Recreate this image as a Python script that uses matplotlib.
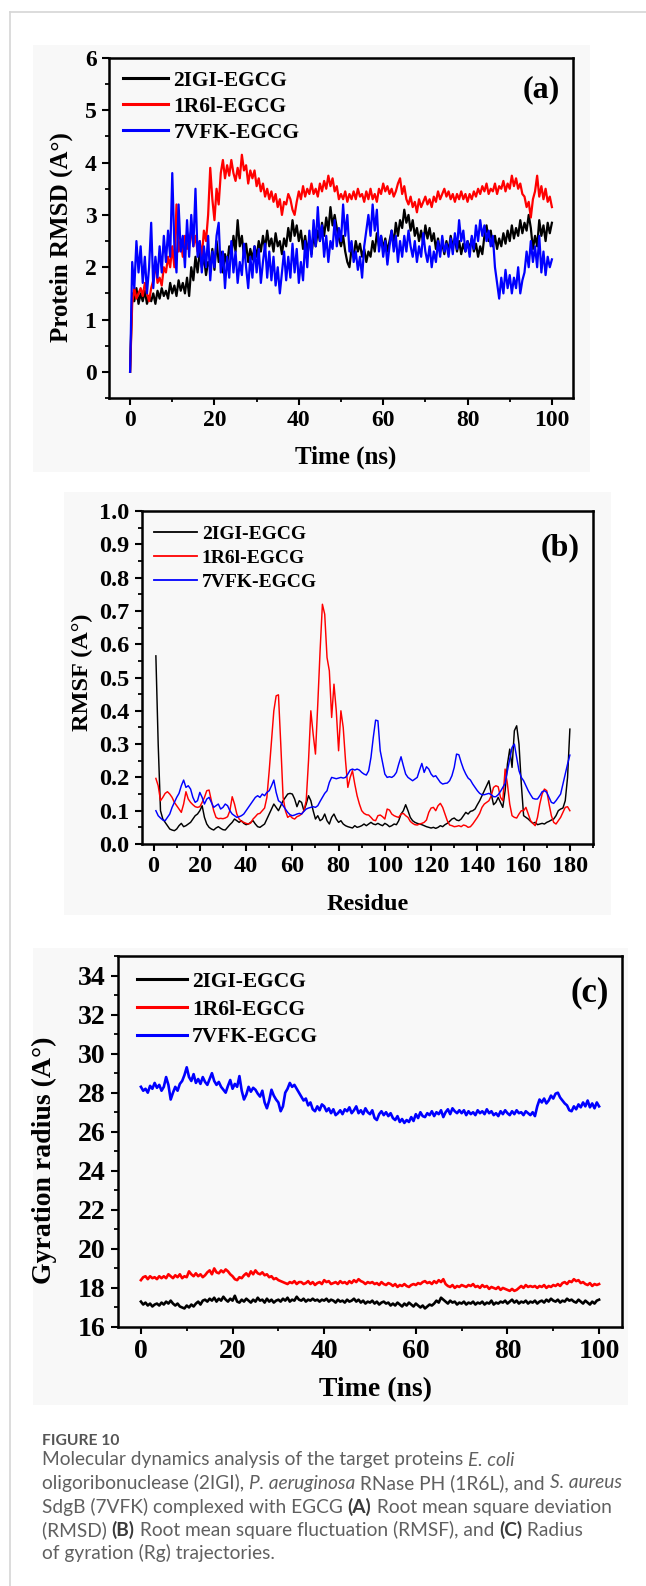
import numpy as np
import matplotlib
matplotlib.use("Agg")
import matplotlib.pyplot as plt
from matplotlib.patches import Rectangle
from matplotlib.lines import Line2D
from matplotlib.ticker import MultipleLocator, FormatStrFormatter

W, H = 646, 1586

# ---------------- data ----------------
labels = ["2IGI-EGCG", "1R6l-EGCG", "7VFK-EGCG"]
colors = ["#000000", "#ff0000", "#0000ff"]

# (a) protein RMSD, 0..100 ns every 0.5 ns
time_a = np.arange(0, 100.5, 0.5)
rmsd_2igi = [
    0.0, 1.5, 1.35, 1.6, 1.3, 1.5, 1.35, 1.55, 1.3, 1.45,
    1.35, 1.5, 1.3, 1.55, 1.4, 1.6, 1.45, 1.55, 1.4, 1.7,
    1.5, 1.65, 1.45, 1.75, 1.55, 1.7, 1.5, 1.8, 1.45, 2.0,
    1.75, 2.2, 1.9, 2.3, 2.0, 2.2, 1.85, 2.1, 2.0, 2.35,
    1.95, 2.5, 2.1, 2.3, 1.9, 2.25, 2.05, 2.4, 2.2, 2.6,
    2.3, 2.9, 2.4, 2.6, 2.2, 2.45, 2.1, 2.35, 2.15, 2.4,
    2.2, 2.5, 2.3, 2.6, 2.35, 2.7, 2.4, 2.55, 2.3, 2.65,
    2.4, 2.5, 2.25, 2.55, 2.4, 2.75, 2.5, 2.9, 2.6, 2.8,
    2.5, 2.7, 2.35, 2.6, 2.3, 2.55, 2.25, 2.6, 2.4, 2.7,
    2.5, 2.85, 2.6, 2.95, 2.7, 3.15, 2.8, 3.0, 2.75, 2.55,
    2.4, 2.6, 2.3, 2.1, 2.0, 2.35, 2.2, 2.5, 2.3, 2.45,
    2.2, 2.35, 2.1, 2.3, 2.2, 2.5, 2.3, 2.65, 2.4, 2.6,
    2.35, 2.55, 2.3, 2.5, 2.7, 2.45, 2.85, 2.6, 2.9, 2.75,
    3.1, 2.85, 3.0, 2.7, 2.9, 2.6, 2.75, 2.5, 2.7, 2.45,
    2.8, 2.55, 2.75, 2.5, 2.65, 2.35, 2.55, 2.3, 2.45, 2.25,
    2.5, 2.3, 2.6, 2.4, 2.55, 2.3, 2.5, 2.25, 2.45, 2.3,
    2.5, 2.35, 2.55, 2.3, 2.45, 2.2, 2.4, 2.25, 2.6, 2.8,
    2.5, 2.7, 2.4, 2.6, 2.35, 2.55, 2.4, 2.65, 2.45, 2.7,
    2.5, 2.8, 2.55, 2.75, 2.6, 2.9, 2.65, 2.85, 2.7, 3.0,
    2.75, 2.35, 2.6, 2.4, 2.9, 2.6, 2.8, 2.5, 2.85, 2.65,
    2.85,
]
rmsd_1r6l = [
    0.0, 1.3, 1.6, 1.4, 1.5, 1.6, 1.45, 1.7, 1.5, 1.35,
    1.6, 1.75, 2.1, 1.7, 1.8, 1.65, 2.0, 1.9, 2.2, 2.0,
    2.4, 2.0, 3.2, 2.3, 2.5, 2.2, 2.6, 2.35, 2.5, 2.7,
    2.4, 2.6, 2.3, 2.5, 2.2, 2.7, 2.5, 3.0, 3.9, 3.3,
    2.9, 3.5, 3.2, 3.8, 4.05, 3.7, 3.95, 3.75, 4.05, 3.8,
    3.65, 3.9, 3.7, 4.15, 3.85, 3.95, 3.6, 3.85, 3.7, 3.85,
    3.55, 3.7, 3.45, 3.6, 3.35, 3.5, 3.3, 3.45, 3.25, 3.4,
    3.15, 3.3, 3.0, 3.25, 3.2, 3.4, 3.3, 3.1, 3.0, 3.25,
    3.45, 3.3, 3.55, 3.35, 3.5, 3.4, 3.6, 3.4, 3.5, 3.35,
    3.6, 3.45, 3.65, 3.5, 3.75, 3.55, 3.7, 3.45, 3.55, 3.3,
    3.4, 3.3, 3.45, 3.25, 3.4, 3.3, 3.45, 3.3, 3.5, 3.35,
    3.4, 3.25, 3.45, 3.3, 3.5, 3.3, 3.4, 3.25, 3.5, 3.4,
    3.6, 3.45, 3.55, 3.4, 3.5, 3.35, 3.45, 3.6, 3.7, 3.4,
    3.55, 3.3, 3.2, 3.35, 3.15, 3.25, 3.05, 3.3, 3.15, 3.25,
    3.35, 3.2, 3.3, 3.15, 3.35, 3.25, 3.45, 3.3, 3.4, 3.5,
    3.35, 3.45, 3.3, 3.4, 3.25, 3.4, 3.3, 3.45, 3.3, 3.4,
    3.25, 3.4, 3.3, 3.45, 3.35, 3.5, 3.4, 3.55, 3.45, 3.6,
    3.4, 3.5, 3.45, 3.6, 3.4, 3.55, 3.5, 3.65, 3.45, 3.6,
    3.5, 3.75, 3.55, 3.7, 3.5, 3.6, 3.4, 3.35, 3.15, 3.25,
    2.95, 3.3, 3.45, 3.75, 3.35, 3.55, 3.3, 3.5, 3.25, 3.35,
    3.15,
]
rmsd_7vfk = [
    0.0, 2.1, 1.6, 2.5, 1.9, 2.4, 1.7, 2.2, 1.5, 2.0,
    2.85, 1.6, 2.2, 1.8, 2.4, 1.9, 2.6, 2.1, 2.7, 2.2,
    3.8, 2.4, 1.9, 3.2, 2.3, 2.6, 2.0, 2.9, 2.2, 3.0,
    2.4, 3.5, 2.2, 2.5, 1.9, 2.4, 2.0, 2.6, 1.75, 2.3,
    2.0, 2.6, 2.85, 1.9, 2.3, 1.6, 2.2, 1.8, 2.5, 1.9,
    2.3, 1.7, 2.1, 1.85, 2.45, 2.0, 1.6, 2.2, 1.8, 2.4,
    1.9, 2.35, 1.7, 2.1, 2.45, 1.8, 2.3, 1.75, 2.2, 1.65,
    2.0, 1.5, 1.9, 2.3, 1.75, 2.2, 1.8, 2.45, 1.9, 2.35,
    1.7, 2.1, 1.75, 2.5, 2.0, 2.7, 2.2, 2.9, 2.4, 3.15,
    2.5, 2.8, 2.2, 2.6, 2.1, 2.5, 2.35, 2.9, 2.4, 2.75,
    2.5, 3.2, 2.6, 3.0, 2.3, 2.5, 2.1, 2.3, 1.95, 2.2,
    1.8, 2.4, 2.7, 3.0, 2.6, 3.2, 2.7, 3.1, 2.3, 2.6,
    2.2, 2.5, 2.05, 2.4, 2.7, 2.3, 2.6, 2.1, 2.5, 2.2,
    2.6, 2.3, 2.7, 2.4, 2.2, 2.5, 2.1, 2.4, 2.2, 2.65,
    2.3, 2.1, 2.4, 2.0, 2.3, 2.1, 2.5, 2.2, 2.6, 2.3,
    2.45, 2.2, 2.55, 2.25, 2.65, 2.35, 2.9, 2.5, 2.7, 2.3,
    2.5, 2.2, 2.6, 2.35, 2.8, 2.5, 2.9, 2.6, 2.8, 2.5,
    2.7, 2.4, 2.6, 2.0, 1.7, 1.4, 1.8, 1.5, 1.95, 1.6,
    1.85, 1.5, 1.8, 1.6, 2.0, 1.5, 1.75, 1.9, 2.3, 2.0,
    2.5, 2.1, 2.4, 2.0, 2.6, 1.9, 2.3, 1.85, 2.2, 2.0,
    2.15,
]

# (b) RMSF per residue 1..180
residue = np.arange(1, 181)
rmsf_2igi = [
    0.565, 0.30, 0.10, 0.075, 0.065, 0.055, 0.045, 0.042, 0.040, 0.045,
    0.055, 0.062, 0.052, 0.055, 0.06, 0.065, 0.075, 0.085, 0.09, 0.10,
    0.115, 0.08, 0.06, 0.05, 0.045, 0.042, 0.048, 0.052, 0.047, 0.043,
    0.042, 0.05, 0.058, 0.065, 0.075, 0.07, 0.065, 0.07, 0.062, 0.058,
    0.06, 0.065, 0.07, 0.06, 0.052, 0.05, 0.055, 0.06, 0.075, 0.09,
    0.105, 0.12, 0.11, 0.10, 0.115, 0.13, 0.14, 0.15, 0.152, 0.15,
    0.135, 0.112, 0.13, 0.125, 0.10, 0.12, 0.145, 0.13, 0.10, 0.075,
    0.085, 0.07, 0.075, 0.09, 0.07, 0.06, 0.08, 0.09, 0.075, 0.065,
    0.07, 0.06, 0.055, 0.052, 0.05, 0.048, 0.055, 0.05, 0.052, 0.055,
    0.06, 0.055, 0.06, 0.065, 0.06, 0.058, 0.062, 0.058, 0.055, 0.062,
    0.058, 0.052, 0.055, 0.06, 0.058, 0.07, 0.09, 0.10, 0.118, 0.10,
    0.08, 0.07, 0.065, 0.062, 0.06, 0.058, 0.055, 0.052, 0.05, 0.048,
    0.05, 0.047, 0.05, 0.055, 0.052, 0.058, 0.062, 0.068, 0.075, 0.078,
    0.072, 0.07, 0.075, 0.085, 0.095, 0.09, 0.098, 0.10, 0.105, 0.118,
    0.13, 0.145, 0.16, 0.175, 0.19, 0.15, 0.118, 0.125, 0.14, 0.125,
    0.11, 0.16, 0.24, 0.285, 0.23, 0.34, 0.355, 0.30, 0.18, 0.085,
    0.08, 0.075, 0.068, 0.062, 0.065, 0.058, 0.06, 0.062, 0.06, 0.065,
    0.068, 0.072, 0.075, 0.085, 0.10, 0.105, 0.108, 0.13, 0.20, 0.345,
]
rmsf_1r6l = [
    0.197, 0.175, 0.13, 0.14, 0.152, 0.157, 0.15, 0.14, 0.125, 0.115,
    0.105, 0.095, 0.12, 0.157, 0.135, 0.125, 0.118, 0.112, 0.11, 0.112,
    0.125, 0.14, 0.16, 0.162, 0.13, 0.10, 0.08, 0.076, 0.077, 0.076,
    0.078, 0.082, 0.10, 0.142, 0.12, 0.09, 0.075, 0.068, 0.065, 0.062,
    0.06, 0.063, 0.075, 0.082, 0.09, 0.092, 0.10, 0.108, 0.14, 0.22,
    0.31, 0.40, 0.445, 0.448, 0.30, 0.14, 0.10, 0.08, 0.085, 0.078,
    0.075, 0.082, 0.085, 0.09, 0.10, 0.13, 0.25, 0.40, 0.33, 0.27,
    0.42, 0.58, 0.72, 0.69, 0.56, 0.52, 0.38, 0.48, 0.40, 0.28,
    0.40, 0.35, 0.25, 0.17, 0.20, 0.22, 0.18, 0.145, 0.12, 0.10,
    0.092, 0.088, 0.087, 0.08, 0.072, 0.07, 0.085, 0.087, 0.082, 0.075,
    0.105, 0.102, 0.09, 0.085, 0.082, 0.08, 0.09, 0.092, 0.085, 0.08,
    0.068, 0.062, 0.058, 0.057, 0.06, 0.062, 0.065, 0.072, 0.095, 0.108,
    0.11, 0.10, 0.115, 0.122, 0.11, 0.09, 0.07, 0.057, 0.055, 0.052,
    0.053, 0.055, 0.052, 0.057, 0.055, 0.05, 0.052, 0.06, 0.07, 0.08,
    0.092, 0.11, 0.12, 0.125, 0.13, 0.145, 0.17, 0.175, 0.172, 0.14,
    0.13, 0.225, 0.18, 0.12, 0.085, 0.08, 0.078, 0.09, 0.10, 0.10,
    0.11, 0.09, 0.07, 0.062, 0.055, 0.08, 0.12, 0.15, 0.165, 0.16,
    0.12, 0.085, 0.065, 0.06, 0.07, 0.08, 0.095, 0.11, 0.112, 0.10,
]
rmsf_7vfk = [
    0.10, 0.085, 0.078, 0.072, 0.07, 0.08, 0.09, 0.11, 0.125, 0.14,
    0.152, 0.175, 0.192, 0.17, 0.175, 0.165, 0.14, 0.125, 0.13, 0.155,
    0.14, 0.12, 0.135, 0.14, 0.125, 0.11, 0.115, 0.12, 0.105, 0.11,
    0.12, 0.115, 0.10, 0.09, 0.085, 0.08, 0.082, 0.085, 0.09, 0.10,
    0.11, 0.12, 0.13, 0.14, 0.145, 0.14, 0.15, 0.145, 0.155, 0.16,
    0.175, 0.192, 0.155, 0.13, 0.125, 0.115, 0.105, 0.095, 0.088, 0.085,
    0.087, 0.09, 0.092, 0.09, 0.098, 0.105, 0.108, 0.11, 0.112, 0.11,
    0.115, 0.128, 0.14, 0.152, 0.16, 0.185, 0.20, 0.198, 0.196, 0.198,
    0.20, 0.198, 0.20, 0.21, 0.222, 0.225, 0.222, 0.225, 0.222, 0.215,
    0.21, 0.207, 0.22, 0.26, 0.32, 0.372, 0.37, 0.28, 0.245, 0.21,
    0.20, 0.202, 0.20, 0.205, 0.215, 0.24, 0.262, 0.235, 0.21, 0.20,
    0.195, 0.19, 0.195, 0.20, 0.222, 0.242, 0.215, 0.232, 0.225, 0.21,
    0.202, 0.205, 0.195, 0.185, 0.18, 0.182, 0.183, 0.19, 0.205, 0.23,
    0.27, 0.268, 0.245, 0.225, 0.21, 0.198, 0.192, 0.18, 0.17, 0.16,
    0.152, 0.148, 0.148, 0.15, 0.152, 0.148, 0.142, 0.142, 0.148, 0.158,
    0.17, 0.182, 0.22, 0.255, 0.29, 0.30, 0.26, 0.22, 0.20, 0.19,
    0.175, 0.16, 0.148, 0.137, 0.135, 0.135, 0.145, 0.157, 0.16, 0.155,
    0.14, 0.125, 0.122, 0.13, 0.14, 0.15, 0.18, 0.21, 0.24, 0.267,
]

# (c) radius of gyration, 0..100 ns every 0.5 ns
time_c = np.arange(0, 100.5, 0.5)
rg_2igi = [
    17.3, 17.15, 17.25, 17.1, 17.2, 17.05, 17.15, 17.2, 17.1, 17.25,
    17.15, 17.3, 17.2, 17.35, 17.2, 17.1, 17.2, 17.05, 17.0, 16.95,
    17.1, 17.0, 17.15, 17.05, 17.2, 17.3, 17.15, 17.35, 17.4, 17.3,
    17.45, 17.35, 17.5, 17.3, 17.45, 17.35, 17.55, 17.4, 17.3, 17.45,
    17.35, 17.6, 17.3, 17.25, 17.4, 17.3, 17.45, 17.35, 17.25, 17.4,
    17.3, 17.5, 17.35, 17.4, 17.25, 17.45, 17.3, 17.4, 17.25, 17.35,
    17.4, 17.3, 17.45, 17.35, 17.5, 17.3, 17.4, 17.35, 17.55, 17.4,
    17.35, 17.45, 17.3, 17.4, 17.35, 17.45, 17.35, 17.4, 17.3, 17.4,
    17.35, 17.45, 17.3, 17.4, 17.35, 17.25, 17.4, 17.3, 17.35, 17.25,
    17.4, 17.3, 17.35, 17.45, 17.3, 17.4, 17.25, 17.35, 17.2, 17.3,
    17.25, 17.35, 17.2, 17.3, 17.15, 17.25, 17.3, 17.2, 17.25, 17.1,
    17.2, 17.1, 17.25, 17.15, 17.05, 17.2, 17.1, 17.25, 17.15, 17.05,
    17.2, 17.1, 17.0, 17.1, 16.95, 17.05, 17.15, 17.1, 17.2, 17.35,
    17.25, 17.5, 17.4, 17.3, 17.2, 17.35, 17.25, 17.3, 17.15, 17.25,
    17.2, 17.3, 17.15, 17.25, 17.2, 17.3, 17.15, 17.25, 17.2, 17.3,
    17.15, 17.25, 17.2, 17.35, 17.15, 17.25, 17.2, 17.3, 17.25, 17.35,
    17.2, 17.3, 17.4, 17.25, 17.35, 17.2, 17.3, 17.25, 17.35, 17.2,
    17.3, 17.25, 17.35, 17.2, 17.3, 17.35, 17.25, 17.4, 17.3, 17.45,
    17.35, 17.3, 17.4, 17.25, 17.35, 17.3, 17.45, 17.35, 17.4, 17.3,
    17.25, 17.4, 17.3, 17.2, 17.35, 17.25, 17.15, 17.3, 17.2, 17.35,
    17.4,
]
rg_1r6l = [
    18.4, 18.55, 18.6, 18.45, 18.6, 18.5, 18.55, 18.45, 18.6, 18.5,
    18.6, 18.5, 18.7, 18.6, 18.5, 18.65, 18.55, 18.7, 18.5, 18.6,
    18.55, 18.85, 18.7, 18.6, 18.75, 18.6, 18.7, 18.55, 18.65, 18.8,
    18.9, 18.7, 19.0, 18.8, 18.75, 18.9, 18.8, 18.95, 18.85, 18.7,
    18.6, 18.45, 18.4, 18.55, 18.5, 18.65, 18.75, 18.6, 18.85, 18.7,
    18.9, 18.75, 18.7, 18.8, 18.65, 18.7, 18.55, 18.6, 18.45, 18.5,
    18.4, 18.35, 18.3, 18.25, 18.2, 18.3, 18.25, 18.35, 18.2, 18.3,
    18.3, 18.2, 18.25, 18.35, 18.2, 18.3, 18.15, 18.25, 18.3, 18.2,
    18.4, 18.3, 18.35, 18.2, 18.25, 18.3, 18.2, 18.35, 18.25, 18.3,
    18.2, 18.35, 18.25, 18.4, 18.3, 18.45, 18.35, 18.3, 18.2, 18.3,
    18.25, 18.3, 18.2, 18.25, 18.15, 18.3, 18.2, 18.15, 18.25, 18.2,
    18.1, 18.2, 18.05, 18.15, 18.1, 18.2, 18.1, 18.05, 18.15, 18.2,
    18.15, 18.25, 18.2, 18.3, 18.35, 18.25, 18.3, 18.2, 18.35, 18.25,
    18.4, 18.3, 18.45, 18.2, 18.1, 18.05, 18.15, 18.0, 18.1, 18.05,
    18.15, 18.1, 18.05, 18.15, 18.1, 18.2, 18.05, 18.1, 18.0, 18.15,
    18.05, 18.1, 17.95, 18.05, 18.0, 17.95, 18.05, 17.9, 18.0, 17.95,
    17.9, 17.85, 17.95, 17.85, 17.9, 18.0, 18.1, 18.0, 18.15, 18.05,
    18.1, 18.05, 18.1, 18.0, 18.1, 18.05, 18.15, 18.0, 18.1, 18.05,
    18.15, 18.1, 18.2, 18.1, 18.25, 18.3, 18.2, 18.35, 18.3, 18.45,
    18.35, 18.4, 18.25, 18.3, 18.2, 18.15, 18.25, 18.1, 18.2, 18.15,
    18.2,
]
rg_7vfk = [
    28.3, 28.1, 28.2, 28.0, 28.35, 28.2, 28.5, 28.25, 28.4, 28.1,
    28.3, 28.8, 28.4, 27.65, 28.0, 28.3, 28.1, 28.45, 28.6, 28.9,
    29.3, 28.8, 28.6, 28.95, 28.5, 28.7, 28.45, 28.8, 28.55, 28.4,
    28.7, 29.0, 28.6, 28.4, 28.55, 28.3, 28.15, 28.0, 28.35, 28.65,
    28.2, 28.45, 28.3, 28.85, 28.1, 27.65, 27.9, 28.3, 28.05, 28.25,
    28.15, 27.95, 27.8, 28.1, 27.5, 27.2, 27.6, 28.15, 27.85, 27.65,
    27.5, 27.05, 27.3, 28.0, 28.2, 28.5, 28.3, 28.4, 28.2, 28.0,
    27.8, 27.6, 27.7, 27.35, 27.5, 27.15, 27.05, 27.3, 27.1, 27.4,
    27.3, 27.05, 27.2, 26.95, 27.15, 26.85, 26.95, 27.1, 26.9, 27.15,
    27.05, 27.25, 26.95, 27.1, 27.3, 26.95, 27.1, 26.9, 27.2, 27.0,
    26.9, 27.1, 26.7, 26.6, 26.9, 27.05, 26.85, 27.0, 26.8, 26.95,
    26.7, 26.6, 26.8, 26.5, 26.65, 26.45, 26.6, 26.5, 26.75, 26.55,
    26.9, 26.7, 27.0, 26.8, 26.75, 26.95, 26.85, 27.05, 26.8, 27.0,
    26.9, 27.1, 26.75, 27.0, 27.15, 26.9, 27.2, 27.05, 26.95, 27.1,
    26.95, 27.1, 26.85, 27.05, 26.9, 27.0, 26.85, 27.1, 26.95, 27.05,
    26.9, 27.15, 26.95, 27.05, 26.85, 26.95, 26.8, 27.05, 26.9, 27.1,
    26.95, 26.85, 27.05, 26.9, 27.1, 26.95, 27.0, 26.85, 27.05, 26.95,
    26.85, 27.0, 26.8, 27.3, 27.65, 27.5, 27.7, 27.45, 27.6, 27.85,
    27.7, 27.95, 28.0, 27.75, 27.6, 27.45, 27.35, 27.1, 27.05, 27.3,
    27.15, 27.4, 27.25, 27.5, 27.3, 27.6, 27.25, 27.45, 27.2, 27.5,
    27.3,
]

# ---------------- figure ----------------
SERIF = "Liberation Serif"
fig = plt.figure(figsize=(W / 100, H / 100), dpi=100)
fig.patch.set_facecolor("white")


def px_rect(x0, y0, x1, y1):
    return [x0 / W, 1 - y1 / H, (x1 - x0) / W, (y1 - y0) / H]


# grey panel backgrounds and page border lines
for x0, y0, x1, y1 in [(33, 45, 590, 472), (64, 492, 611, 915), (33, 948, 628, 1405)]:
    fig.add_artist(Rectangle((x0 / W, 1 - y1 / H), (x1 - x0) / W, (y1 - y0) / H,
                             transform=fig.transFigure, facecolor="#f8f8f8",
                             edgecolor="none", zorder=-5))
fig.add_artist(Line2D([10 / W, 10 / W], [0, 1 - 12 / H], transform=fig.transFigure,
                      color="#d6d6d6", lw=1.2, zorder=-4))
fig.add_artist(Line2D([10 / W, 1], [1 - 12 / H, 1 - 12 / H], transform=fig.transFigure,
                      color="#d6d6d6", lw=1.2, zorder=-4))


def style_axes(ax, tick_size):
    ax.set_facecolor("none")
    for s in ax.spines.values():
        s.set_linewidth(1.8)
    ax.tick_params(which="major", direction="out", length=5, width=1.5,
                   labelsize=tick_size, pad=4)
    ax.tick_params(which="minor", direction="out", length=3, width=1.3)
    for lab in ax.get_xticklabels() + ax.get_yticklabels():
        lab.set_fontfamily(SERIF)
        lab.set_fontweight("bold")


def add_legend(ax, x, y, size, hl, lw, spacing):
    handles = [Line2D([], [], color=c, lw=lw) for c in colors]
    ax.legend(handles, labels, loc="upper left", bbox_to_anchor=(x, y),
              frameon=False, borderpad=0, borderaxespad=0, handlelength=hl,
              handletextpad=0.25, labelspacing=spacing,
              prop={"family": SERIF, "weight": "bold", "size": size})


def set_labels(ax, xl, yl, size, xpos, ypos):
    ax.set_xlabel(xl, fontfamily=SERIF, fontweight="bold", fontsize=size)
    ax.set_ylabel(yl, fontfamily=SERIF, fontweight="bold", fontsize=size)
    ax.xaxis.label.set_verticalalignment("center")
    ax.yaxis.label.set_verticalalignment("center")
    ax.xaxis.set_label_coords(*xpos)
    ax.yaxis.set_label_coords(*ypos)


# ---- (a) RMSD ----
ax1 = fig.add_axes(px_rect(109, 58, 573, 398))
for vals, c in zip([rmsd_2igi, rmsd_1r6l, rmsd_7vfk], colors):
    ax1.plot(time_a, vals, color=c, lw=1.6)
ax1.set_xlim(-5, 105)
ax1.set_ylim(-0.5, 6)
ax1.xaxis.set_major_locator(MultipleLocator(20))
ax1.xaxis.set_minor_locator(MultipleLocator(10))
ax1.yaxis.set_major_locator(MultipleLocator(1))
ax1.yaxis.set_minor_locator(MultipleLocator(0.5))
style_axes(ax1, 17)
set_labels(ax1, "Time (ns)", "Protein RMSD (A°)", 18, (0.511, -0.174), (-0.103, 0.474))
add_legend(ax1, 0.030, 0.963, 15.5, 2.1, 2.2, 0.28)
ax1.text(0.931, 0.906, "(a)", transform=ax1.transAxes, ha="center", va="center",
         fontfamily=SERIF, fontweight="bold", fontsize=23)

# ---- (b) RMSF ----
ax2 = fig.add_axes(px_rect(142, 511, 593, 844))
for vals, c in zip([rmsf_2igi, rmsf_1r6l, rmsf_7vfk], colors):
    ax2.plot(residue, vals, color=c, lw=1.05)
ax2.set_xlim(-5, 190)
ax2.set_ylim(0, 1.0)
ax2.xaxis.set_major_locator(MultipleLocator(20))
ax2.xaxis.set_minor_locator(MultipleLocator(10))
ax2.yaxis.set_major_locator(MultipleLocator(0.1))
ax2.yaxis.set_minor_locator(MultipleLocator(0.05))
ax2.yaxis.set_major_formatter(FormatStrFormatter("%.1f"))
style_axes(ax2, 17.5)
set_labels(ax2, "Residue", "RMSF (A°)", 17.5, (0.501, -0.183), (-0.133, 0.516))
add_legend(ax2, 0.027, 0.958, 14, 2.2, 1.3, 0.33)
ax2.text(0.927, 0.889, "(b)", transform=ax2.transAxes, ha="center", va="center",
         fontfamily=SERIF, fontweight="bold", fontsize=23)

# ---- (c) Rg ----
ax3 = fig.add_axes(px_rect(118, 956, 622, 1327))
for vals, c in zip([rg_2igi, rg_1r6l, rg_7vfk], colors):
    ax3.plot(time_c, vals, color=c, lw=1.9)
ax3.set_xlim(-5, 105)
ax3.set_ylim(16, 35)
ax3.xaxis.set_major_locator(MultipleLocator(20))
ax3.xaxis.set_minor_locator(MultipleLocator(10))
ax3.yaxis.set_major_locator(MultipleLocator(2))
ax3.yaxis.set_minor_locator(MultipleLocator(1))
style_axes(ax3, 20)
set_labels(ax3, "Time (ns)", "Gyration radius (A°)", 20, (0.51, -0.170), (-0.145, 0.450))
add_legend(ax3, 0.038, 0.957, 15.5, 2.3, 2.2, 0.35)
ax3.text(0.936, 0.900, "(c)", transform=ax3.transAxes, ha="center", va="center",
         fontfamily=SERIF, fontweight="bold", fontsize=25)

# ---------------- caption ----------------
CAP = "Lato"
renderer = fig.canvas.get_renderer()


def seg_width(txt, kw):
    t1 = fig.text(0, 0, "|" + txt + "|", **kw)
    t2 = fig.text(0, 0, "||", **kw)
    w = t1.get_window_extent(renderer).width - t2.get_window_extent(renderer).width
    t1.remove()
    t2.remove()
    return w


def seg_kw(style, size):
    kw = dict(fontsize=size, fontfamily=CAP, color="#606060", va="center", ha="left")
    if style == "i":
        kw["style"] = "italic"
    if style == "b":
        kw["fontweight"] = "bold"
        kw["color"] = "#3a3a3a"
    return kw


def draw_segments(x_px, y_px, segs, size):
    x = x_px
    for txt, st in segs:
        kw = seg_kw(st, size)
        fig.text(x / W, 1 - y_px / H, txt, **kw)
        x += seg_width(txt, kw)


caption = [
    [("Molecular dynamics analysis of the target proteins ", "n"), ("E. coli", "i")],
    [("oligoribonuclease (2IGI), ", "n"), ("P. aeruginosa", "i"),
     (" RNase PH (1R6L), and ", "n"), ("S. aureus", "i")],
    [("SdgB (7VFK) complexed with EGCG ", "n"), ("(A)", "b"),
     (" Root mean square deviation", "n")],
    [("(RMSD) ", "n"), ("(B)", "b"), (" Root mean square fluctuation (RMSF), and ", "n"),
     ("(C)", "b"), (" Radius", "n")],
    [("of gyration (Rg) trajectories.", "n")],
]
# fit the longest line to the width it takes in the figure
w_ref = sum(seg_width(t, seg_kw(s, 12)) for t, s in caption[1])
cap_size = 12 * 578 / w_ref

fig.text(42 / W, 1 - 1441 / H, "FIGURE 10", fontfamily=CAP, fontweight="bold",
         fontsize=cap_size * 0.82, color="#555555", va="center", ha="left")
for segs, y in zip(caption, [1460, 1483, 1507, 1530, 1553]):
    draw_segments(42, y, segs, cap_size)

fig.savefig("out.png", dpi=100)
